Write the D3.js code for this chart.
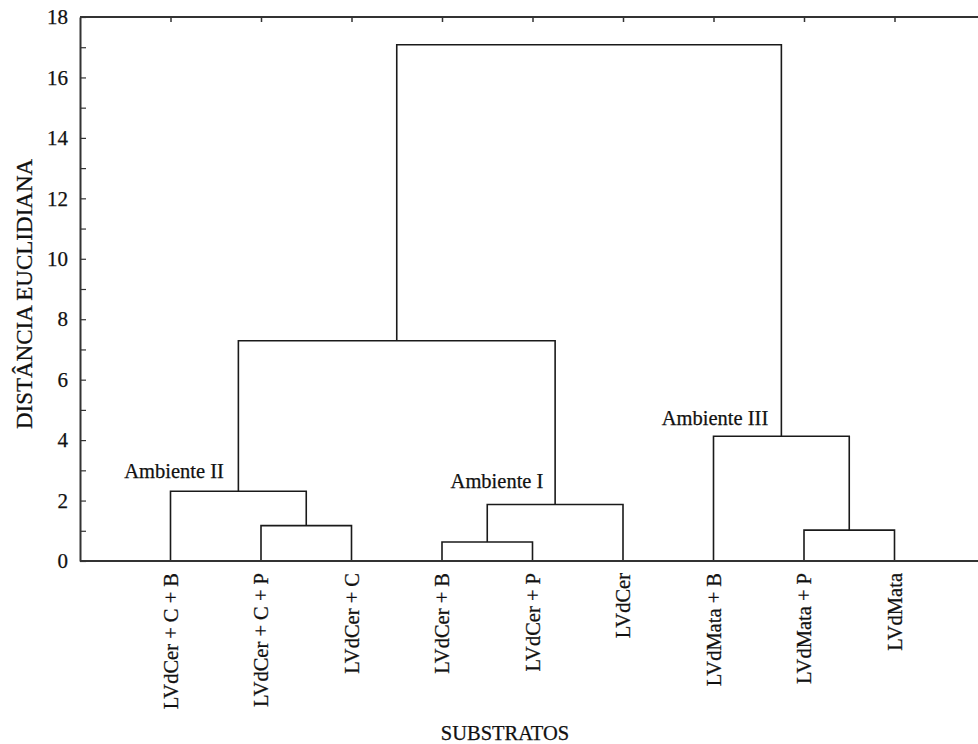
<!DOCTYPE html>
<html>
<head>
<meta charset="utf-8">
<script src="https://cdn.jsdelivr.net/npm/d3@7"></script>
<style>
  body { margin: 0; background: #fff; }
  svg text { stroke: #111; stroke-width: 0.25px; }
</style>
</head>
<body>
<div id="chart"></div>
<script>
// Dendrograma - distancia euclidiana entre substratos

var leaves = ["LVdCer + C + B", "LVdCer + C + P", "LVdCer + C", "LVdCer + B",
              "LVdCer + P", "LVdCer", "LVdMata + B", "LVdMata + P", "LVdMata"];

// merges: [left, right, height]; ids < 9 are leaves, 9+ are earlier merges
var merges = [
  [3, 4, 0.63],    // 9
  [7, 8, 1.02],    // 10
  [1, 2, 1.17],    // 11
  [9, 5, 1.87],    // 12  Ambiente I
  [0, 11, 2.31],   // 13  Ambiente II
  [6, 10, 4.13],   // 14  Ambiente III
  [13, 12, 7.29],  // 15
  [15, 14, 17.08]  // 16
];

var groupLabels = ["Ambiente II", "Ambiente I", "Ambiente III"];
var groupNodes = [13, 12, 14];

var yTicks = [0, 2, 4, 6, 8, 10, 12, 14, 16, 18];

var width = 978, height = 744;
var padL = 80, padT = 17, padB = 561;
var FONT = "'Liberation Serif', 'Times New Roman', serif";

var svg = d3.select("#chart").append("svg")
  .attr("width", width)
  .attr("height", height)
  .attr("font-family", FONT);

var x = d3.scaleLinear().domain([0, leaves.length + 1]).range([padL, padL + 90.5 * (leaves.length + 1)]);
var y = d3.scaleLinear().domain([0, 18]).range([padB, padT]);

// node positions
var nodes = leaves.map(function (d, i) { return {x: x(i + 1), h: 0}; });
merges.forEach(function (m) {
  var a = nodes[m[0]], b = nodes[m[1]];
  nodes.push({x: (a.x + b.x) / 2, h: m[2]});
});

var g = svg.append("g");

// links
merges.forEach(function (m) {
  var a = nodes[m[0]], b = nodes[m[1]];
  var p = d3.path();
  p.moveTo(a.x, y(a.h));
  p.lineTo(a.x, y(m[2]));
  p.lineTo(b.x, y(m[2]));
  p.lineTo(b.x, y(b.h));
  g.append("path")
    .attr("d", p.toString())
    .attr("fill", "none")
    .attr("stroke", "#1a1a1a")
    .attr("stroke-width", 1.6);
});

// frame lines
svg.append("line").attr("x1", padL).attr("x2", width).attr("y1", y(0)).attr("y2", y(0))
  .attr("stroke", "#333").attr("stroke-width", 2);
svg.append("line").attr("x1", padL).attr("x2", width).attr("y1", y(18)).attr("y2", y(18))
  .attr("stroke", "#333").attr("stroke-width", 2);

// left axis, ticks inward
var yAxis = d3.axisLeft(y).tickValues(d3.range(0, 19, 1)).tickSizeInner(-6).tickSizeOuter(0).tickPadding(12)
  .tickFormat(function (d) { return yTicks.indexOf(d) >= 0 ? d : ""; });
var ya = svg.append("g").attr("transform", "translate(" + padL + ",0)").call(yAxis)
  .attr("font-family", FONT).attr("font-size", 21);
ya.select(".domain").attr("stroke", "#333").attr("stroke-width", 2);
ya.selectAll(".tick line").attr("stroke", "#333").attr("stroke-width", 1.2);
ya.selectAll(".tick text").attr("fill", "#111");

// top ticks at leaves
var xTop = d3.axisTop(x).tickValues(d3.range(1, leaves.length + 1)).tickSize(-5).tickFormat("");
var xa = svg.append("g").attr("transform", "translate(0," + padT + ")").call(xTop);
xa.select(".domain").remove();
xa.selectAll(".tick line").attr("stroke", "#333").attr("stroke-width", 1.5);

// leaf labels
svg.selectAll(".leaf")
  .data(leaves)
  .enter().append("text")
  .attr("class", "leaf")
  .attr("transform", function (d, i) { return "translate(" + (x(i + 1) + 7) + "," + (padB + 12) + ") rotate(-90)"; })
  .attr("text-anchor", "end")
  .attr("font-size", 20.5)
  .attr("fill", "#111")
  .text(function (d) { return d; });

// group labels
var groupX = [174, 497, 715];
var groupGap = [13, 16, 11];
svg.selectAll(".grp")
  .data(groupLabels)
  .enter().append("text")
  .attr("class", "grp")
  .attr("x", function (d, i) { return groupX[i]; })
  .attr("y", function (d, i) { return y(nodes[groupNodes[i]].h) - groupGap[i]; })
  .attr("text-anchor", "middle")
  .attr("font-size", 20.5)
  .attr("fill", "#111")
  .text(function (d) { return d; });

// axis titles
svg.append("text")
  .attr("transform", "translate(32,294) rotate(-90)")
  .attr("text-anchor", "middle")
  .attr("font-size", 23)
  .attr("fill", "#111")
  .text("DISTÂNCIA EUCLIDIANA");

svg.append("text")
  .attr("x", 505).attr("y", 740)
  .attr("text-anchor", "middle")
  .attr("font-size", 20.5)
  .attr("fill", "#111")
  .text("SUBSTRATOS");
</script>
</body>
</html>
